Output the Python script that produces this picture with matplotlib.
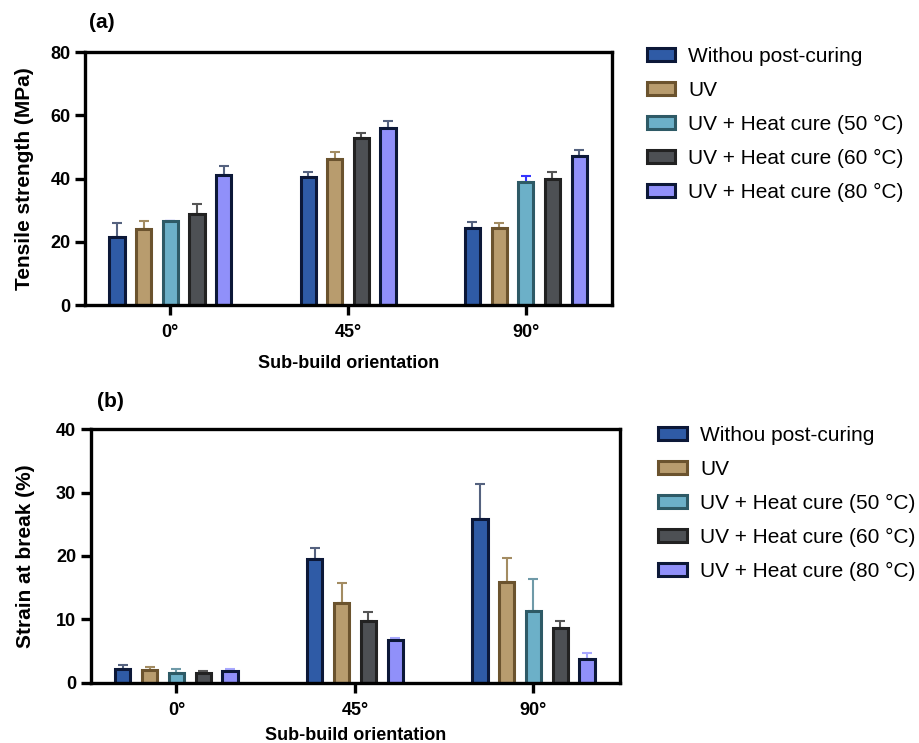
import numpy as np
import matplotlib.pyplot as plt
from matplotlib.patches import Patch

plt.rcParams['font.family'] = ['Liberation Sans', 'DejaVu Sans']

orientations = ["0°", "45°", "90°"]
labels = ["Withou post-curing", "UV", "UV + Heat cure (50 °C)",
          "UV + Heat cure (60 °C)", "UV + Heat cure (80 °C)"]

# tensile strength (MPa), mean and upper error
tensile = [[21.6, 40.4, 24.2],
           [24.0, 46.1, 24.2],
           [26.5, np.nan, 38.8],
           [28.8, 52.9, 40.0],
           [41.2, 56.1, 47.2]]
tensile_err = [[4.4, 1.6, 1.9],
               [2.5, 2.3, 1.7],
               [0.2, np.nan, 1.9],
               [3.2, 1.6, 2.0],
               [2.8, 2.0, 1.7]]

# strain at break (%)
strain = [[2.2, 19.5, 25.9],
          [2.0, 12.5, 15.9],
          [1.6, np.nan, 11.3],
          [1.6, 9.7, 8.7],
          [1.8, 6.7, 3.7]]
strain_err = [[0.6, 1.7, 5.4],
              [0.4, 3.3, 3.8],
              [0.5, np.nan, 5.0],
              [0.3, 1.5, 1.0],
              [0.3, 0.3, 1.0]]

fills = ["#2f5ba6", "#b89c6e", "#6cb0c8", "#4d5054", "#9090fa"]
edges = ["#0c1838", "#6b532e", "#2e5a66", "#222222", "#0c1838"]
err_a = ["#55627f", "#a38c62", "#3535ff", "#555555", "#55627f"]
err_b = ["#55627f", "#a38c62", "#6f9aa8", "#555555", "#a8a8ff"]

step = 0.15
width = 0.085


def draw(ax, vals, errs, errc, ymax, yticks, ylabel, leg_anchor, xpad, ypad):
    vals = np.array(vals, dtype=float)
    errs = np.array(errs, dtype=float)
    for g in range(len(orientations)):
        present = [i for i in range(len(labels)) if not np.isnan(vals[i, g])]
        n = len(present)
        for k, i in enumerate(present):
            x = g + (k - (n - 1) / 2) * step
            ax.errorbar(x, vals[i, g], yerr=[[0], [errs[i, g]]], fmt="none",
                        ecolor=errc[i], elinewidth=1.5, capsize=3.5,
                        capthick=1.5, zorder=1)
            ax.bar(x, vals[i, g], width=width, color=fills[i],
                   edgecolor=edges[i], linewidth=2.2, zorder=2)
    ax.set_ylim(0, ymax)
    ax.set_yticks(yticks)
    ax.set_xticks(range(len(orientations)))
    ax.set_xticklabels(orientations)
    ax.set_xlim(-0.48, 2.485)
    for s in ax.spines.values():
        s.set_linewidth(2.4)
    ax.tick_params(axis="both", width=2.4, length=7, labelsize=13)
    ax.tick_params(axis="x", pad=7)
    for t in ax.get_xticklabels() + ax.get_yticklabels():
        t.set_fontweight("bold")
    ax.set_xlabel("Sub-build orientation", fontsize=13, fontweight="bold", labelpad=xpad)
    ax.set_ylabel(ylabel, fontsize=15, fontweight="bold", labelpad=ypad)
    handles = [Patch(facecolor=fills[i], edgecolor=edges[i], linewidth=2.2,
                     label=labels[i]) for i in range(len(labels))]
    ax.legend(handles=handles, loc="upper left", bbox_to_anchor=leg_anchor,
              frameon=False, fontsize=15, handlelength=1.35, handleheight=0.55,
              labelspacing=0.72, handletextpad=0.65)


fig = plt.figure(figsize=(9.2, 7.43), dpi=100)
ax1 = fig.add_axes([0.0924, 0.5895, 0.5728, 0.3405])
ax2 = fig.add_axes([0.0986, 0.0812, 0.5754, 0.341])

draw(ax1, tensile, tensile_err, err_a, 80, [0, 20, 40, 60, 80],
     "Tensile strength (MPa)", (1.03, 1.095), 10, 12)
draw(ax2, strain, strain_err, err_b, 40, [0, 10, 20, 30, 40],
     "Strain at break (%)", (1.037, 1.088), 6, 15)

fig.text(0.097, 0.962, "(a)", fontsize=15, fontweight="bold")
fig.text(0.105, 0.452, "(b)", fontsize=15, fontweight="bold")

fig.savefig("out.png", dpi=100)
